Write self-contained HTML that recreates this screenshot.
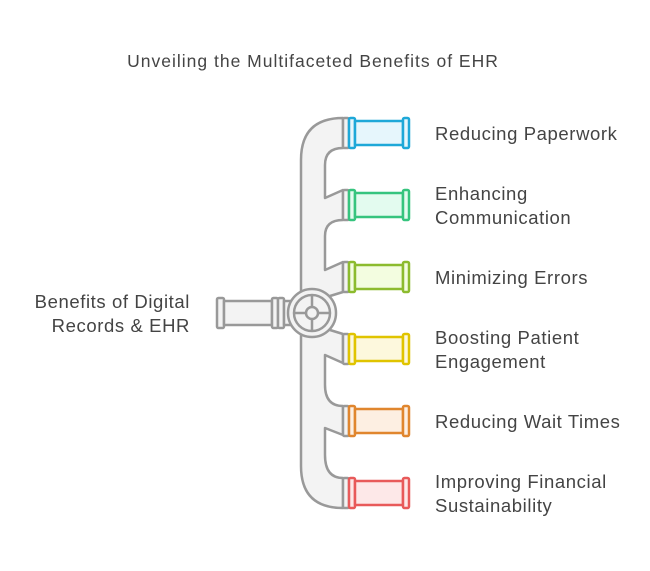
<!DOCTYPE html>
<html><head><meta charset="utf-8"><style>
body{margin:0;background:#fff;width:650px;height:566px;overflow:hidden}
svg text{font-family:"Liberation Sans",sans-serif;fill:#444;font-size:18.5px;letter-spacing:0.6px}
</style></head><body>
<svg width="650" height="566" viewBox="0 0 650 566" xmlns="http://www.w3.org/2000/svg">
<text x="313" y="67" text-anchor="middle" style="font-size:17.5px;letter-spacing:1px">Unveiling the Multifaceted Benefits of EHR</text>
<g stroke="#999" stroke-width="2.5" fill="#f3f3f3" stroke-linejoin="round">
<path d="M343,118 Q301,118 301,160 L301,466 Q301,508 343,508 L343,478 Q325,478 325,455 L325,428 L343,435 L343,406 Q325,406 325,385 L325,355 L343,363 L343,334 L330,330 L330,296 L343,292 L343,262 L325,270 L325,236 Q325,220 343,220 L343,190 L325,198 L325,165 Q325,148 343,148 Z"/>
<rect x="217" y="298" width="7" height="30" rx="1.5"/>
<rect x="224" y="301" width="48" height="24"/>
<rect x="272" y="298" width="6" height="30" rx="1.5"/>
<rect x="278" y="298" width="6" height="30" rx="1.5"/>
<rect x="284" y="301" width="8" height="24"/>
<circle cx="312" cy="313" r="24"/>
<circle cx="312" cy="313" r="18" fill="none"/>
<line x1="312" y1="295" x2="312" y2="331"/><line x1="294" y1="313" x2="330" y2="313"/>
<circle cx="312" cy="313" r="6"/>
</g>
<g stroke-width="2.5" stroke-linejoin="round">
<g transform="translate(0,133)"><rect x="343" y="-15" width="6" height="30" rx="1.5" fill="#f3f3f3" stroke="#999"/><g stroke="#1ea8d8" fill="#e6f6fc"><rect x="349" y="-15" width="6" height="30" rx="1.5"/><rect x="355" y="-12" width="48" height="24"/><rect x="403" y="-15" width="6" height="30" rx="1.5"/></g></g>
<g transform="translate(0,205)"><rect x="343" y="-15" width="6" height="30" rx="1.5" fill="#f3f3f3" stroke="#999"/><g stroke="#36c47e" fill="#e3fbef"><rect x="349" y="-15" width="6" height="30" rx="1.5"/><rect x="355" y="-12" width="48" height="24"/><rect x="403" y="-15" width="6" height="30" rx="1.5"/></g></g>
<g transform="translate(0,277)"><rect x="343" y="-15" width="6" height="30" rx="1.5" fill="#f3f3f3" stroke="#999"/><g stroke="#8cbb2e" fill="#f3fde0"><rect x="349" y="-15" width="6" height="30" rx="1.5"/><rect x="355" y="-12" width="48" height="24"/><rect x="403" y="-15" width="6" height="30" rx="1.5"/></g></g>
<g transform="translate(0,349)"><rect x="343" y="-15" width="6" height="30" rx="1.5" fill="#f3f3f3" stroke="#999"/><g stroke="#e0c400" fill="#fdf8dd"><rect x="349" y="-15" width="6" height="30" rx="1.5"/><rect x="355" y="-12" width="48" height="24"/><rect x="403" y="-15" width="6" height="30" rx="1.5"/></g></g>
<g transform="translate(0,421)"><rect x="343" y="-15" width="6" height="30" rx="1.5" fill="#f3f3f3" stroke="#999"/><g stroke="#e0862e" fill="#fdefe2"><rect x="349" y="-15" width="6" height="30" rx="1.5"/><rect x="355" y="-12" width="48" height="24"/><rect x="403" y="-15" width="6" height="30" rx="1.5"/></g></g>
<g transform="translate(0,493)"><rect x="343" y="-15" width="6" height="30" rx="1.5" fill="#f3f3f3" stroke="#999"/><g stroke="#e85a5a" fill="#fde8e8"><rect x="349" y="-15" width="6" height="30" rx="1.5"/><rect x="355" y="-12" width="48" height="24"/><rect x="403" y="-15" width="6" height="30" rx="1.5"/></g></g>
</g>
<text x="435" y="140">Reducing Paperwork</text>
<text x="435" y="200">Enhancing</text><text x="435" y="224">Communication</text>
<text x="435" y="284">Minimizing Errors</text>
<text x="435" y="344">Boosting Patient</text><text x="435" y="368">Engagement</text>
<text x="435" y="428">Reducing Wait Times</text>
<text x="435" y="488">Improving Financial</text><text x="435" y="512">Sustainability</text>
<text x="190" y="308" text-anchor="end">Benefits of Digital</text>
<text x="190" y="332" text-anchor="end">Records &amp; EHR</text>
</svg>
</body></html>
